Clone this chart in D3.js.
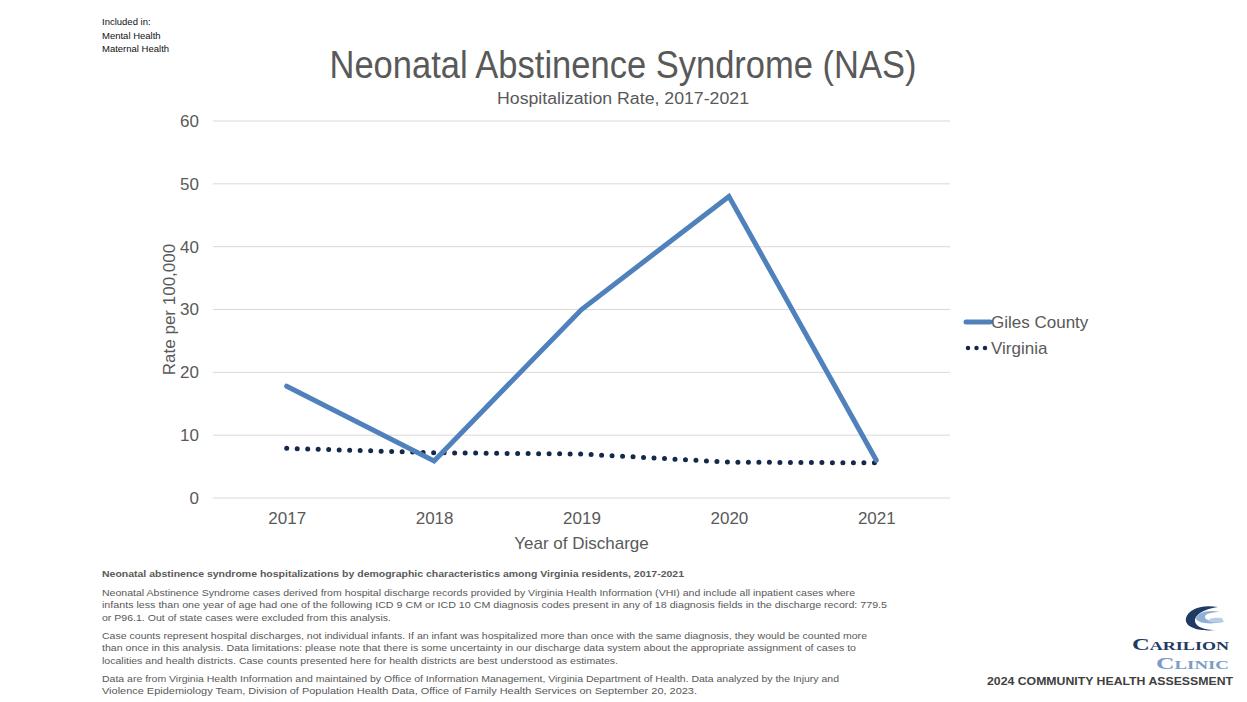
<!DOCTYPE html>
<html>
<head>
<meta charset="utf-8">
<script src="https://cdn.jsdelivr.net/npm/d3@7"></script>
<style>
  body { margin: 0; background: #fff; }
  svg { display: block; font-family: "Liberation Sans", Arial, sans-serif; }
</style>
</head>
<body>
<svg id="chart" width="1247" height="702"></svg>
<script>
const years = ["2017", "2018", "2019", "2020", "2021"];
const gilesCounty = [17.8, 5.9, 30.0, 48.0, 6.0];
const virginia = [7.9, 7.2, 7.0, 5.7, 5.6];
const yTicks = [0, 10, 20, 30, 40, 50, 60];
const seriesNames = ["Giles County", "Virginia"];
const includedIn = ["Included in:", "Mental Health", "Maternal Health"];
const notes = [
  ["Neonatal Abstinence Syndrome cases derived from hospital discharge records provided by Virginia Health Information (VHI) and include all inpatient cases where",
   "infants less than one year of age had one of the following ICD 9 CM or ICD 10 CM diagnosis codes present in any of 18 diagnosis fields in the discharge record: 779.5",
   "or P96.1.  Out of state cases were excluded from this analysis."],
  ["Case counts represent hospital discharges, not individual infants. If an infant was hospitalized more than once with the same diagnosis, they would be counted more",
   "than once in this analysis.  Data limitations: please note that there is some uncertainty in our discharge data system about the appropriate assignment of cases to",
   "localities and health districts. Case counts presented here for health districts are best understood as estimates."],
  ["Data are from Virginia Health Information and maintained by Office of Information Management, Virginia Department of Health. Data analyzed by the Injury and",
   "Violence Epidemiology Team, Division of Population Health Data, Office of Family Health Services on September 20, 2023."]
];

const svg = d3.select("#chart");
const textGray = "#595959";
const blue = "#4f81bd";
const navy = "#14284b";

// plot area
const plotLeft = 213, plotRight = 950, plotTop = 121, plotBottom = 498;

const x = d3.scalePoint().domain(years).range([plotLeft, plotRight]).padding(0.5);
const y = d3.scaleLinear().domain([0, 60]).range([plotBottom, plotTop]);

// gridlines
svg.append("g")
  .selectAll("line")
  .data(yTicks)
  .enter().append("line")
  .attr("x1", plotLeft).attr("x2", plotRight)
  .attr("y1", d => y(d)).attr("y2", d => y(d))
  .attr("stroke", "#d9d9d9")
  .attr("stroke-width", 1);

// y axis labels
const yAxis = svg.append("g")
  .attr("transform", `translate(${plotLeft},0)`)
  .call(d3.axisLeft(y).tickValues(yTicks).tickSize(0).tickPadding(14));
yAxis.select(".domain").remove();
yAxis.selectAll("text")
  .attr("fill", textGray)
  .style("font-size", "17px")
  .style("font-family", "Liberation Sans, Arial, sans-serif");

// x axis labels
const xAxis = svg.append("g")
  .attr("transform", `translate(0,${plotBottom})`)
  .call(d3.axisBottom(x).tickSize(0).tickPadding(14));
xAxis.select(".domain").remove();
xAxis.selectAll("text")
  .attr("fill", textGray)
  .style("font-size", "17px")
  .style("font-family", "Liberation Sans, Arial, sans-serif");

// axis titles
svg.append("text")
  .attr("x", (plotLeft + plotRight) / 2).attr("y", 549)
  .attr("text-anchor", "middle")
  .attr("fill", textGray)
  .style("font-size", "17px")
  .text("Year of Discharge");

svg.append("text")
  .attr("transform", `translate(175,${(plotTop + plotBottom) / 2}) rotate(-90)`)
  .attr("text-anchor", "middle")
  .attr("fill", textGray)
  .style("font-size", "17px")
  .text("Rate per 100,000");

// lines
const line = d3.line()
  .x((d, i) => x(years[i]))
  .y(d => y(d));

svg.append("path")
  .datum(virginia)
  .attr("fill", "none")
  .attr("stroke", navy)
  .attr("stroke-width", 5)
  .attr("stroke-linecap", "round")
  .attr("stroke-dasharray", "0 10.5")
  .attr("d", line);

svg.append("path")
  .datum(gilesCounty)
  .attr("fill", "none")
  .attr("stroke", blue)
  .attr("stroke-width", 5)
  .attr("stroke-linejoin", "miter")
  .attr("stroke-linecap", "round")
  .attr("d", line);

// legend
const legend = svg.append("g").attr("transform", "translate(966,322)");
legend.append("line")
  .attr("x1", 0).attr("x2", 24).attr("y1", 0).attr("y2", 0)
  .attr("stroke", blue).attr("stroke-width", 5).attr("stroke-linecap", "round");
legend.append("line")
  .attr("x1", 2).attr("x2", 20).attr("y1", 26).attr("y2", 26)
  .attr("stroke", navy).attr("stroke-width", 4.5)
  .attr("stroke-linecap", "round").attr("stroke-dasharray", "0 8.5");
legend.selectAll("text.lg")
  .data(seriesNames)
  .enter().append("text")
  .attr("class", "lg")
  .attr("x", 25)
  .attr("y", (d, i) => i * 26 + 6)
  .attr("fill", textGray)
  .style("font-size", "17px")
  .text(d => d);

// titles
svg.append("text")
  .attr("x", 623).attr("y", 78)
  .attr("text-anchor", "middle")
  .attr("fill", textGray)
  .attr("textLength", 587)
  .attr("lengthAdjust", "spacingAndGlyphs")
  .style("font-size", "38px")
  .text("Neonatal Abstinence Syndrome (NAS)");

svg.append("text")
  .attr("x", 623).attr("y", 104)
  .attr("text-anchor", "middle")
  .attr("fill", textGray)
  .attr("textLength", 252)
  .attr("lengthAdjust", "spacingAndGlyphs")
  .style("font-size", "16px")
  .text("Hospitalization Rate, 2017-2021");

// included in
svg.append("g").selectAll("text")
  .data(includedIn)
  .enter().append("text")
  .attr("x", 102)
  .attr("y", (d, i) => 25 + i * 13.5)
  .attr("fill", "#111")
  .style("font-size", "9.5px")
  .text(d => d);

// footnotes
svg.append("text")
  .attr("x", 102).attr("y", 577)
  .attr("fill", textGray)
  .style("font-size", "9.5px")
  .style("font-weight", "bold")
  .attr("textLength", 582)
  .attr("lengthAdjust", "spacingAndGlyphs")
  .text("Neonatal abstinence syndrome hospitalizations by demographic characteristics among Virginia residents, 2017-2021");

const noteWidths = [[753, 785, 289], [765, 754, 516], [737, 595]];
const noteStarts = [596, 639, 682];
notes.forEach((para, p) => {
  para.forEach((ln, i) => {
    svg.append("text")
      .attr("x", 102)
      .attr("y", noteStarts[p] + i * 12.3)
      .attr("fill", textGray)
      .style("font-size", "9.5px")
      .attr("textLength", noteWidths[p][i])
      .attr("lengthAdjust", "spacingAndGlyphs")
      .text(ln);
  });
});

// logo
const logo = svg.append("g");
logo.append("path")
  .attr("d", "M1218,607 C1200,604 1188,610 1186,618 C1184,626 1196,632 1216,630 C1200,630 1192,624 1196,617 C1200,611 1210,608 1218,607 Z")
  .attr("fill", "#1f3a63");
logo.append("path")
  .attr("d", "M1220,612 C1208,609 1196,613 1196,619 C1198,623 1210,625 1222,622 C1212,622 1204,620 1205,616 C1207,613 1214,612 1220,612 Z")
  .attr("fill", "#8fb0d6");
logo.append("path")
  .attr("d", "M1222,618 C1214,617 1208,619 1208,621 C1212,623 1218,623 1224,622 Z")
  .attr("fill", "#b8cde6");
logo.append("text")
  .attr("x", 1229).attr("y", 650)
  .attr("text-anchor", "end")
  .attr("fill", "#1f3a63")
  .style("font-family", "Liberation Serif, Times New Roman, serif")
  .style("font-weight", "bold")
  .attr("textLength", 97)
  .attr("lengthAdjust", "spacingAndGlyphs")
  .html('<tspan style="font-size:17px">C</tspan><tspan style="font-size:12.5px">ARILION</tspan>');
logo.append("text")
  .attr("x", 1229).attr("y", 669)
  .attr("text-anchor", "end")
  .attr("fill", "#7a9cc6")
  .style("font-family", "Liberation Serif, Times New Roman, serif")
  .style("font-weight", "bold")
  .attr("textLength", 73)
  .attr("lengthAdjust", "spacingAndGlyphs")
  .html('<tspan style="font-size:17px">C</tspan><tspan style="font-size:12.5px">LINIC</tspan>');
svg.append("text")
  .attr("x", 987).attr("y", 685)
  .attr("fill", "#404040")
  .style("font-size", "11.5px")
  .style("font-weight", "bold")
  .attr("textLength", 246)
  .attr("lengthAdjust", "spacingAndGlyphs")
  .text("2024 COMMUNITY HEALTH ASSESSMENT");
</script>
</body>
</html>
